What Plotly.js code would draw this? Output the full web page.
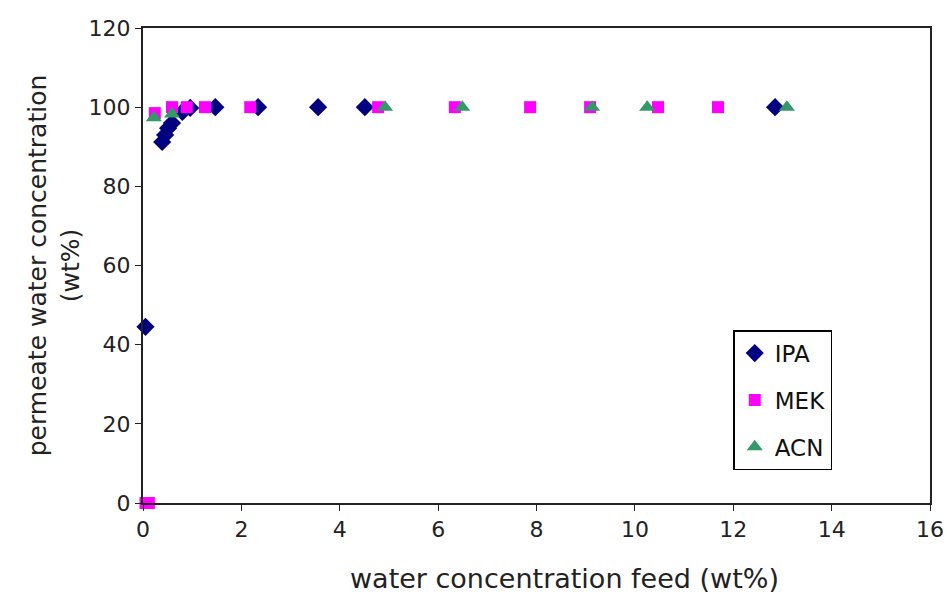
<!DOCTYPE html>
<html>
<head>
<meta charset="utf-8">
<script src="https://cdn.plot.ly/plotly-3.0.1.min.js"></script>
<style>html,body{margin:0;padding:0;background:#fff;}#chart{width:947px;height:595px;}</style>
</head>
<body>
<div id="chart"></div>
<script>
const ipaX = [0.05, 0.39, 0.45, 0.51, 0.59, 0.8, 0.96, 1.47, 2.34, 3.56, 4.51, 12.85];
const ipaY = [44.5, 91.2, 93, 94.7, 96, 98.8, 99.8, 100, 100, 100, 100, 100];
const mekX = [0.05, 0.12, 0.24, 0.59, 0.89, 1.26, 2.18, 4.78, 6.34, 7.87, 9.09, 10.47, 11.69];
const mekY = [0, 0, 98.5, 100, 100, 100, 100, 100, 100, 100, 100, 100, 100];
const acnX = [0.22, 0.59, 4.92, 6.49, 9.13, 10.25, 13.09];
const acnY = [97.3, 98.3, 100, 100, 100, 100, 100];
const xTicks = [0, 2, 4, 6, 8, 10, 12, 14, 16];
const yTicks = [0, 20, 40, 60, 80, 100, 120];

const traces = [
  {x: ipaX, y: ipaY, name: 'IPA', legendgroup: 'a', mode: 'markers', type: 'scatter', cliponaxis: false,
   marker: {symbol: 'diamond', size: 14, color: '#000080'}},
  {x: mekX, y: mekY, name: 'MEK', legendgroup: 'b', mode: 'markers', type: 'scatter', cliponaxis: false,
   marker: {symbol: 'square', size: 12, color: '#ff00ff'}},
  {x: acnX, y: acnY, name: 'ACN', legendgroup: 'c', mode: 'markers', type: 'scatter', cliponaxis: false,
   marker: {symbol: 'triangle-up', size: 14, color: '#339966'}}
];

const fam = 'DejaVu Sans, Arial, sans-serif';
const layout = {
  width: 947, height: 595,
  margin: {l: 143, r: 17, t: 28, b: 92},
  paper_bgcolor: '#fff', plot_bgcolor: '#fff',
  font: {family: fam, color: '#222', size: 22},
  showlegend: true,
  legend: {
    x: 0.75, y: 0.364, xanchor: 'left', yanchor: 'top',
    bordercolor: '#000', borderwidth: 1.5, bgcolor: '#fff',
    traceorder: 'grouped', tracegroupgap: 14,
    font: {family: fam, size: 23, color: '#111'}
  },
  annotations: [{
    text: 'water concentration feed (wt%)', xref: 'paper', yref: 'paper',
    x: 0.535, y: 0, yshift: -75, xanchor: 'center', yanchor: 'middle', showarrow: false,
    font: {family: fam, size: 27, color: '#222'}
  }],
  xaxis: {
    range: [0, 16], tickvals: xTicks, ticktext: xTicks.map(String),
    showgrid: false, zeroline: false,
    showline: true, linecolor: '#222', linewidth: 2, mirror: true,
    ticks: 'outside', ticklen: 6, tickcolor: '#222', tickwidth: 1,
    tickfont: {family: fam, size: 22, color: '#222'}
  },
  yaxis: {
    range: [0, 120], tickvals: yTicks, ticktext: yTicks.map(String),
    showgrid: false, zeroline: false,
    showline: true, linecolor: '#222', linewidth: 2, mirror: true,
    ticks: 'outside', ticklen: 6, tickcolor: '#222', tickwidth: 1,
    tickfont: {family: fam, size: 22, color: '#222'},
    title: {text: 'permeate water concentration<br>(wt%)', font: {family: fam, size: 25, color: '#222'}, standoff: 2}
  }
};

Plotly.newPlot('chart', traces, layout, {displayModeBar: false, staticPlot: true});
</script>
</body>
</html>
